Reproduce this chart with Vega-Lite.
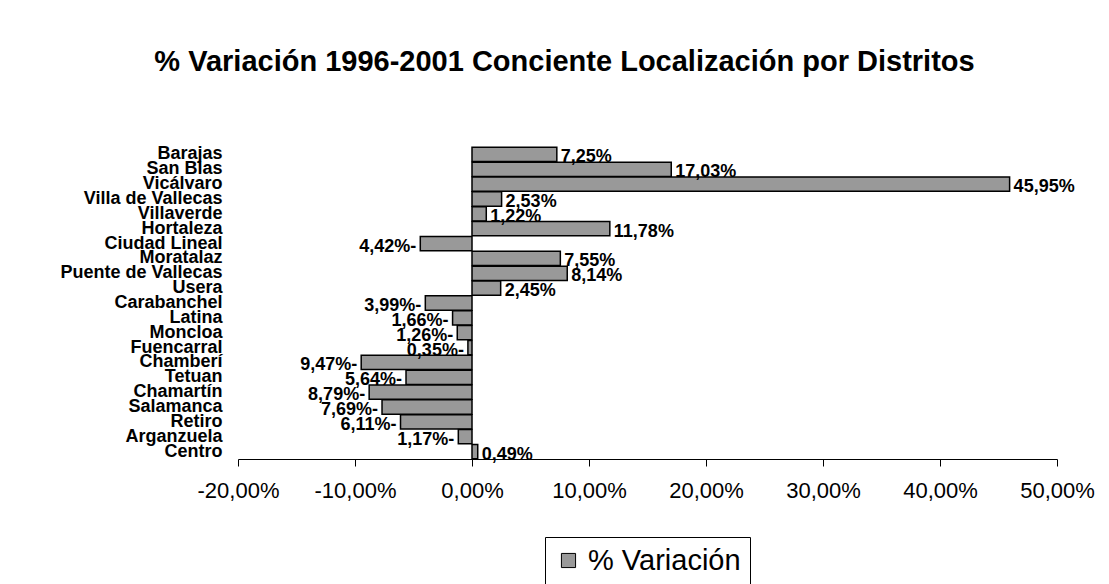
{
  "$schema": "https://vega.github.io/schema/vega-lite/v6.json",
  "autosize": {"type": "none"},
  "width": 819,
  "height": 312,
  "padding": {"left": 238, "top": 147, "right": 52, "bottom": 125},
  "background": "white",
  "config": {
    "view": {"stroke": null},
    "font": "Liberation Sans",
    "locale": {"number": {"decimal": ",", "thousands": ".", "grouping": [3], "currency": ["", " €"], "minus": "-", "percent": "%"}}
  },
  "title": {
    "text": "% Variación 1996-2001 Conciente Localización por Distritos",
    "font": "Liberation Sans",
    "fontSize": 29,
    "fontWeight": "bold",
    "color": "black",
    "anchor": "middle",
    "dx": -83,
    "offset": 68
  },
  "data": {
    "values": [
      {"distrito": "Barajas", "variacion": 0.0725, "etiqueta": "7,25%"},
      {"distrito": "San Blas", "variacion": 0.1703, "etiqueta": "17,03%"},
      {"distrito": "Vicálvaro", "variacion": 0.4595, "etiqueta": "45,95%"},
      {"distrito": "Villa de Vallecas", "variacion": 0.0253, "etiqueta": "2,53%"},
      {"distrito": "Villaverde", "variacion": 0.0122, "etiqueta": "1,22%"},
      {"distrito": "Hortaleza", "variacion": 0.1178, "etiqueta": "11,78%"},
      {"distrito": "Ciudad Lineal", "variacion": -0.0442, "etiqueta": "4,42%-"},
      {"distrito": "Moratalaz", "variacion": 0.0755, "etiqueta": "7,55%"},
      {"distrito": "Puente de Vallecas", "variacion": 0.0814, "etiqueta": "8,14%"},
      {"distrito": "Usera", "variacion": 0.0245, "etiqueta": "2,45%"},
      {"distrito": "Carabanchel", "variacion": -0.0399, "etiqueta": "3,99%-"},
      {"distrito": "Latina", "variacion": -0.0166, "etiqueta": "1,66%-"},
      {"distrito": "Moncloa", "variacion": -0.0126, "etiqueta": "1,26%-"},
      {"distrito": "Fuencarral", "variacion": -0.0035, "etiqueta": "0,35%-"},
      {"distrito": "Chamberí", "variacion": -0.0947, "etiqueta": "9,47%-"},
      {"distrito": "Tetuan", "variacion": -0.0564, "etiqueta": "5,64%-"},
      {"distrito": "Chamartín", "variacion": -0.0879, "etiqueta": "8,79%-"},
      {"distrito": "Salamanca", "variacion": -0.0769, "etiqueta": "7,69%-"},
      {"distrito": "Retiro", "variacion": -0.0611, "etiqueta": "6,11%-"},
      {"distrito": "Arganzuela", "variacion": -0.0117, "etiqueta": "1,17%-"},
      {"distrito": "Centro", "variacion": 0.0049, "etiqueta": "0,49%"}
    ]
  },
  "encoding": {
    "y": {
      "field": "distrito",
      "type": "nominal",
      "sort": null,
      "scale": {"paddingInner": 0.04, "paddingOuter": 0.02},
      "axis": {
        "title": null,
        "domain": false,
        "ticks": false,
        "grid": false,
        "labelFont": "Liberation Sans",
        "labelFontSize": 18,
        "labelFontWeight": "bold",
        "labelColor": "black",
        "labelPadding": 16,
        "labelBaseline": "middle",
        "labelOverlap": false,
        "labelLimit": 0
      }
    },
    "x": {
      "field": "variacion",
      "type": "quantitative",
      "scale": {"domain": [-0.2, 0.5], "nice": false, "zero": true},
      "axis": {
        "title": null,
        "format": ".2%",
        "values": [-0.2, -0.1, 0, 0.1, 0.2, 0.3, 0.4, 0.5],
        "grid": false,
        "domainColor": "black",
        "domainWidth": 1,
        "tickColor": "black",
        "tickSize": 7,
        "labelFont": "Liberation Sans",
        "labelFontSize": 22,
        "labelColor": "black",
        "labelPadding": 14,
        "labelFlush": false
      }
    }
  },
  "layer": [
    {
      "mark": {"type": "bar", "stroke": "black", "strokeWidth": 1.5},
      "encoding": {
        "fill": {
          "datum": "% Variación",
          "type": "nominal",
          "scale": {"range": ["#999999"]},
          "legend": {
            "title": null,
            "orient": "none",
            "legendX": 307,
            "legendY": 390,
            "strokeColor": "black",
            "padding": 9,
            "symbolType": "square",
            "symbolSize": 200,
            "symbolStrokeColor": "black",
            "symbolStrokeWidth": 1,
            "symbolFillColor": "#999999",
            "labelFont": "Liberation Sans",
            "labelFontSize": 29,
            "labelColor": "black",
            "labelOffset": 5
          }
        }
      }
    },
    {
      "transform": [{"filter": "datum.variacion >= 0"}],
      "mark": {"type": "text", "align": "left", "dx": 4, "dy": 3, "fontSize": 18, "fontWeight": "bold", "font": "Liberation Sans", "color": "black"},
      "encoding": {"text": {"field": "etiqueta"}}
    },
    {
      "transform": [{"filter": "datum.variacion < 0"}],
      "mark": {"type": "text", "align": "right", "dx": -4, "dy": 3, "fontSize": 18, "fontWeight": "bold", "font": "Liberation Sans", "color": "black"},
      "encoding": {"text": {"field": "etiqueta"}}
    }
  ]
}
